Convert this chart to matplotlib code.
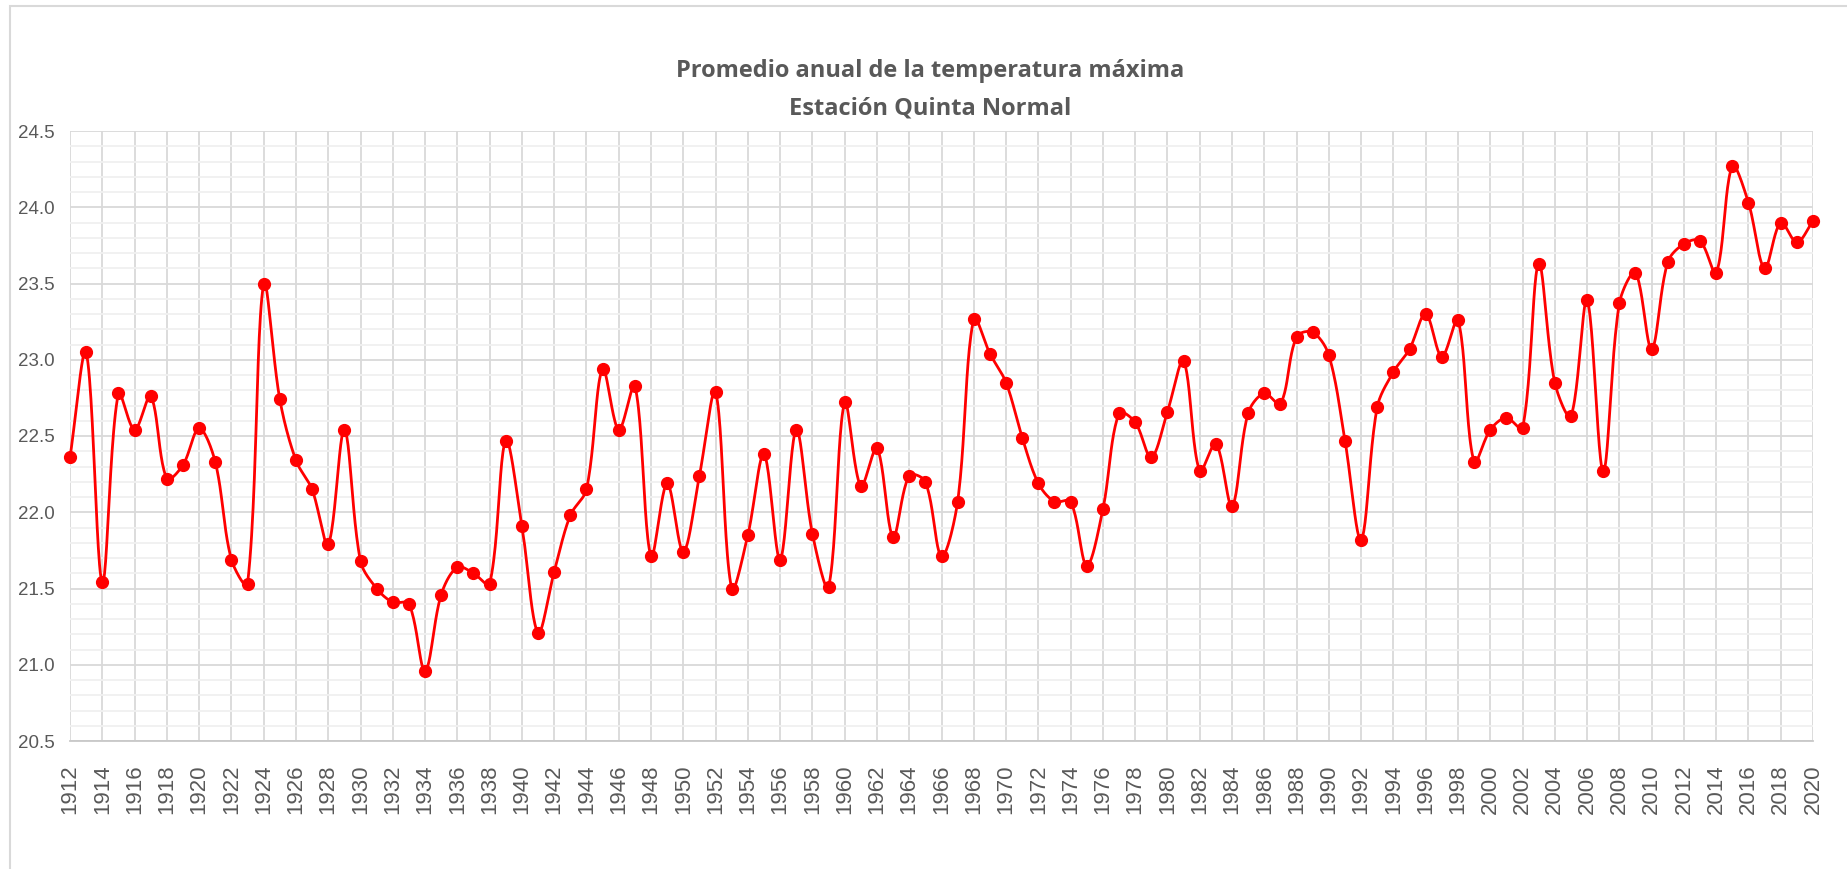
import numpy as np
import matplotlib
matplotlib.use("Agg")
import matplotlib.pyplot as plt
from matplotlib.patches import Rectangle
from matplotlib.ticker import MultipleLocator

years = list(range(1912, 2021))
temps = [
    22.36, 23.05, 21.54, 22.78, 22.54, 22.76, 22.22, 22.31, 22.55, 22.33,  # 1912-1921
    21.69, 21.53, 23.50, 22.74, 22.34, 22.15, 21.79, 22.54, 21.68, 21.50,  # 1922-1931
    21.41, 21.40, 20.96, 21.46, 21.64, 21.60, 21.53, 22.47, 21.91, 21.21,  # 1932-1941
    21.61, 21.98, 22.15, 22.94, 22.54, 22.83, 21.71, 22.19, 21.74, 22.24,  # 1942-1951
    22.79, 21.50, 21.85, 22.38, 21.69, 22.54, 21.86, 21.51, 22.72, 22.17,  # 1952-1961
    22.42, 21.84, 22.24, 22.20, 21.71, 22.07, 23.27, 23.04, 22.85, 22.49,  # 1962-1971
    22.19, 22.07, 22.07, 21.65, 22.02, 22.65, 22.59, 22.36, 22.66, 22.99,  # 1972-1981
    22.27, 22.45, 22.04, 22.65, 22.78, 22.71, 23.15, 23.18, 23.03, 22.47,  # 1982-1991
    21.82, 22.69, 22.92, 23.07, 23.30, 23.02, 23.26, 22.33, 22.54, 22.62,  # 1992-2001
    22.55, 23.63, 22.85, 22.63, 23.39, 22.27, 23.37, 23.57, 23.07, 23.64,  # 2002-2011
    23.76, 23.78, 23.57, 24.27, 24.03, 23.60, 23.90, 23.77, 23.91,         # 2012-2020
]
title_lines = ["Promedio anual de la temperatura máxima", "Estación Quinta Normal"]
y_ticks = [20.5, 21.0, 21.5, 22.0, 22.5, 23.0, 23.5, 24.0, 24.5]
x_tick_years = list(range(1912, 2021, 2))

TEXT = "#595959"
GRID = "#d9d9d9"
MINOR = "#f0f0f0"

W, H = 1847, 869
L_PX, R_PX, T_PX, B_PX = 70, 1813, 131, 741


def smooth_curve(x, y, sx_scale, sy_scale, n=24):
    """Excel-like smoothed line: Bezier segments whose tangent lengths are
    scaled by the neighbouring chord lengths (measured in pixel space)."""
    x = np.asarray(x, float)
    y = np.asarray(y, float)
    P = np.column_stack([x * sx_scale, y * sy_scale])
    m = len(P)
    out = []
    t = np.linspace(0, 1, n, endpoint=False)[:, None]
    for i in range(m - 1):
        p1, p2 = P[i], P[i + 1]
        p0 = P[i - 1] if i > 0 else p1
        p3 = P[i + 2] if i + 2 < m else p2
        d01 = np.linalg.norm(p1 - p0)
        d12 = np.linalg.norm(p2 - p1)
        d23 = np.linalg.norm(p3 - p2)
        f1 = d12 / (d01 + d12) / 3.0 if d01 + d12 > 0 else 0
        f2 = d12 / (d12 + d23) / 3.0 if d12 + d23 > 0 else 0
        c1 = p1 + (p2 - p0) * f1
        c2 = p2 - (p3 - p1) * f2
        b = (1 - t) ** 3 * p1 + 3 * (1 - t) ** 2 * t * c1 + 3 * (1 - t) * t ** 2 * c2 + t ** 3 * p2
        out.append(b)
    out.append(P[-1:])
    B = np.vstack(out)
    return B[:, 0] / sx_scale, B[:, 1] / sy_scale


fig = plt.figure(figsize=(W / 100, H / 100), dpi=100)
fig.patch.set_facecolor("white")

# chart frame (partially cropped, as in the reference)
fig.add_artist(Rectangle((10 / W, -0.05), 1.1, 1 - 6 / H + 0.05, transform=fig.transFigure,
                         fill=False, edgecolor=GRID, linewidth=1.5))

left, right, top, bottom = L_PX / W, R_PX / W, 1 - T_PX / H, 1 - B_PX / H
ax = fig.add_axes([left, bottom, right - left, top - bottom])
ax.set_xlim(years[0], years[-1])
ax.set_ylim(y_ticks[0], y_ticks[-1])

# gridlines
ax.yaxis.set_minor_locator(MultipleLocator(0.1))
ax.set_yticks(y_ticks)
ax.set_xticks(x_tick_years)
ax.grid(which="minor", axis="y", color=MINOR, linewidth=1.3)
ax.grid(which="major", axis="y", color=GRID, linewidth=1.3)
ax.grid(which="major", axis="x", color=GRID, linewidth=1.3)
ax.set_axisbelow(True)
for s in ax.spines.values():
    s.set_visible(False)
ax.spines["bottom"].set_visible(True)
ax.spines["bottom"].set_color("#c8c8c8")
ax.spines["bottom"].set_linewidth(1.3)
ax.tick_params(which="both", length=0)

ax.set_yticklabels([f"{v:.1f}" for v in y_ticks], fontfamily="Liberation Sans",
                   fontsize=13.5, color=TEXT)
ax.set_xticklabels([str(v) for v in x_tick_years], rotation=90, fontfamily="Liberation Sans",
                   fontsize=16, color=TEXT)
ax.tick_params(axis="y", pad=11)
ax.tick_params(axis="x", pad=17)

px_per_year = (R_PX - L_PX) / (years[-1] - years[0])
px_per_deg = (B_PX - T_PX) / (y_ticks[-1] - y_ticks[0])
sx, sy = smooth_curve(years, temps, px_per_year, px_per_deg)
ax.plot(sx, sy, color="#ff0000", linewidth=2.0, zorder=3, clip_on=False)
ax.plot(years, temps, linestyle="none", marker="o", markersize=8.5, color="#ff0000",
        zorder=4, clip_on=False)

fig.text(930 / W, 1 - 71 / H, title_lines[0], ha="center", va="center",
         fontfamily="Open Sans", fontweight="bold", fontsize=17, color=TEXT)
fig.text(930 / W, 1 - 108 / H, title_lines[1], ha="center", va="center",
         fontfamily="Open Sans", fontweight="bold", fontsize=17, color=TEXT)

fig.savefig("out.png", dpi=100, facecolor="white")
